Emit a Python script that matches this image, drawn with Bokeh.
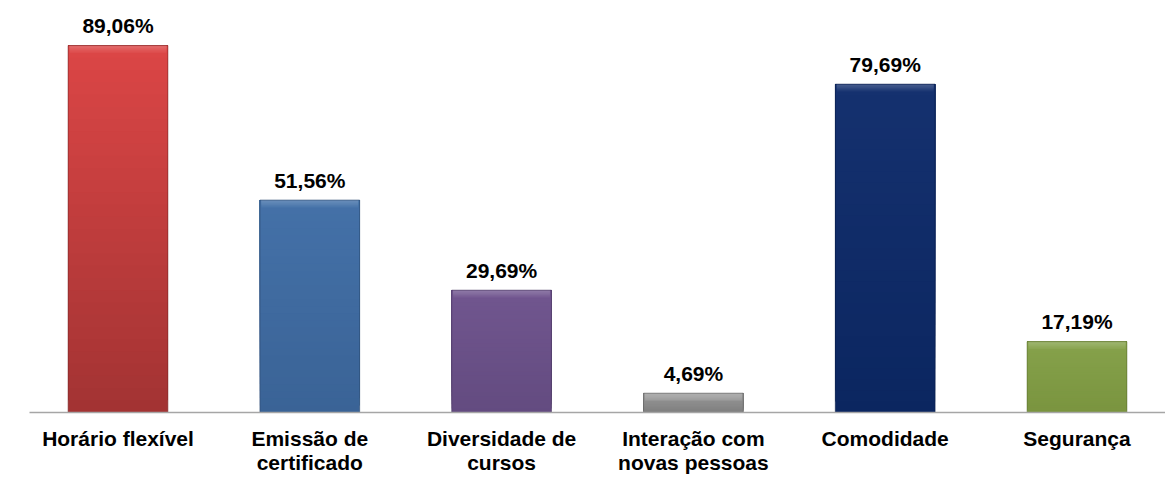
from bokeh.plotting import figure
from bokeh.models import FactorRange, Range1d, ColumnDataSource
from bokeh.core.properties import value
from bokeh.embed import file_html
from bokeh.resources import INLINE

categories = ["Horário flexível", "Emissão de\ncertificado", "Diversidade de\ncursos",
              "Interação com\nnovas pessoas", "Comodidade", "Segurança"]
values = [89.06, 51.56, 29.69, 4.69, 79.69, 17.19]
labels = ["89,06%", "51,56%", "29,69%", "4,69%", "79,69%", "17,19%"]
top_colors = ["#dc4646", "#4471a8", "#71568f", "#9a9a9a", "#15316f", "#86a24b"]
bottom_colors = ["#a23333", "#3a6396", "#634b80", "#7e7e7e", "#0b2660", "#7a943f"]

FONT = "Liberation Sans"


def hex2rgb(h):
    h = h.lstrip("#")
    return tuple(int(h[i:i + 2], 16) for i in (0, 2, 4))


def mix(c1, c2, t):
    a, b = hex2rgb(c1), hex2rgb(c2)
    return "#%02x%02x%02x" % tuple(int(round(a[i] + (b[i] - a[i]) * t)) for i in range(3))


p = figure(width=1165, height=477, output_backend="svg", toolbar_location=None,
           x_range=FactorRange(factors=categories, range_padding=-0.0386,
                               range_padding_units="absolute"),
           y_range=Range1d(0, 100))
p.min_border_left = 29
p.min_border_right = 0
p.min_border_top = 0
p.min_border_bottom = 65
p.outline_line_color = None
p.xgrid.visible = False
p.ygrid.visible = False
p.yaxis.visible = False
p.background_fill_color = "white"
p.border_fill_color = "white"

W = 0.52
N = 30
# gradient bars: overlapping layers, each from a fraction of the value up to the value
xs, bots, tops, cols = [], [], [], []
for i in range(N):
    for c, v, tc, bc in zip(categories, values, top_colors, bottom_colors):
        xs.append(c)
        bots.append(v * i / N)
        tops.append(v)
        cols.append(mix(bc, tc, (i + 0.5) / N))
p.vbar(x=xs, bottom=bots, top=tops, width=W, fill_color=cols, line_color=None)

# soft bevel at the top of each bar (layers growing lighter toward the top)
M = 6
bx, bb, bt, bcol = [], [], [], []
for j in range(M):
    for c, v, tc in zip(categories, values, top_colors):
        bx.append(c)
        bb.append(max(v - 1.8 * (M - j) / M, 0))
        bt.append(v)
        bcol.append(mix(tc, "#ffffff", 0.04 + 0.16 * j / (M - 1)))
p.vbar(x=bx, bottom=bb, top=bt, width=W * 0.97, fill_color=bcol, line_color=None)

# outline
edge_c = [mix(bc, "#000000", 0.25) for bc in bottom_colors]
p.vbar(x=categories, bottom=0, top=values, width=W, fill_color=None,
       line_color=edge_c, line_alpha=0.6, line_width=1)

src = ColumnDataSource(dict(x=categories, y=values, t=labels))
p.text(x="x", y="y", text="t", source=src, text_align="center",
       text_baseline="alphabetic", y_offset=-20, text_font=value(FONT),
       text_font_style="bold", text_font_size="21px", text_color="black")

ax = p.xaxis[0]
ax.axis_line_color = "#a6a6a6"
ax.axis_line_width = 1.5
ax.major_tick_line_color = None
ax.minor_tick_line_color = None
ax.major_tick_out = 0
ax.major_tick_in = 0
ax.major_label_standoff = 14
ax.major_label_text_font = FONT
ax.major_label_text_font_style = "bold"
ax.major_label_text_font_size = "21px"
ax.major_label_text_color = "black"
ax.major_label_text_line_height = 1.05

open("out.html", "w").write(file_html(p, INLINE))
